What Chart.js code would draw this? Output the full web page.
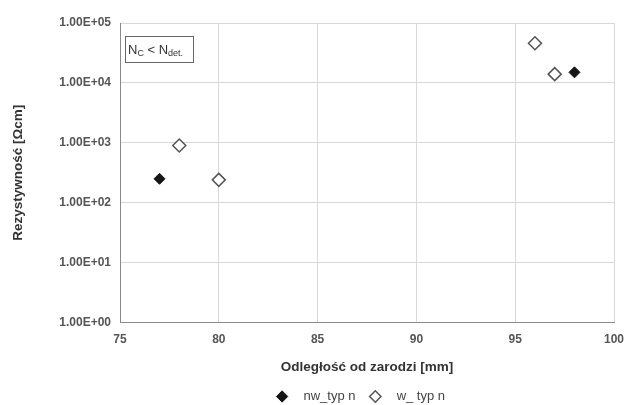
<!DOCTYPE html>
<html>
<head>
<meta charset="utf-8">
<script src="https://cdn.jsdelivr.net/npm/chart.js@4"></script>
<style>
  html, body { margin: 0; padding: 0; background: #fff; }
  #wrap { width: 624px; height: 405px; }
</style>
</head>
<body>
<div id="wrap"><canvas id="resChart"></canvas></div>
<script>
// dane
const nwX = [77, 98];
const nwY = [250, 15000];
const wX = [78, 80, 96, 97];
const wY = [900, 240, 46000, 14000];
const yTicks = [1, 10, 100, 1000, 10000, 100000];
const xTicks = [75, 80, 85, 90, 95, 100];

const pts = (xs, ys) => xs.map((x, i) => ({ x: x, y: ys[i] }));
const FONT = '"Liberation Sans", Arial, sans-serif';

// ramka z opisem N_C < N_det.
const noteBox = {
  id: 'noteBox',
  afterDraw(chart) {
    const c = chart.ctx;
    const a = chart.chartArea;
    const x0 = a.left + 5, y0 = a.top + 13;
    c.save();
    c.strokeStyle = '#666';
    c.lineWidth = 1;
    c.strokeRect(x0 + 0.5, y0 + 0.5, 68, 26);
    c.fillStyle = '#333';
    c.textBaseline = 'alphabetic';
    let x = x0 + 3;
    const base = y0 + 18;
    const part = (t, size, dy) => {
      c.font = size + 'px ' + FONT;
      c.fillText(t, x, base + dy);
      x += c.measureText(t).width;
    };
    part('N', 13, 0);
    part('C', 9, 2);
    part(' < N', 13, 0);
    part('det.', 9, 2);
    c.restore();
  }
};

new Chart(document.getElementById('resChart'), {
  type: 'scatter',
  data: {
    datasets: [
      {
        label: 'nw_typ n',
        data: pts(nwX, nwY),
        pointStyle: 'rectRot',
        pointRadius: 5.5,
        backgroundColor: '#151515',
        borderColor: '#151515',
        borderWidth: 1
      },
      {
        label: 'w_ typ n',
        data: pts(wX, wY),
        pointStyle: 'rectRot',
        pointRadius: 6.5,
        backgroundColor: '#ffffff',
        borderColor: '#555',
        borderWidth: 1.5
      }
    ]
  },
  options: {
    responsive: true,
    maintainAspectRatio: false,
    animation: false,
    layout: { padding: { left: 6, right: 0, top: 23, bottom: 0 } },
    plugins: {
      tooltip: { enabled: false },
      legend: {
        position: 'bottom',
        fullSize: false,
        maxHeight: 20,
        labels: {
          usePointStyle: true,
          pointStyle: 'rectRot',
          boxWidth: 8,
          boxHeight: 8,
          padding: 5,
          color: '#444',
          font: { family: FONT, size: 13 },
          generateLabels: (chart) => Chart.defaults.plugins.legend.labels.generateLabels(chart)
            .map(l => Object.assign(l, { text: '   ' + l.text + '   ' }))
        }
      }
    },
    scales: {
      x: {
        type: 'linear',
        min: 75,
        max: 100,
        afterBuildTicks: (s) => { s.ticks = xTicks.map(v => ({ value: v })); },
        afterFit: (s) => { s.paddingRight = 10; },
        ticks: {
          color: '#555',
          padding: 10,
          font: { family: FONT, size: 12, weight: 'bold' }
        },
        grid: { color: '#d8d8d8', drawTicks: false },
        border: { color: '#8a8a8a' },
        title: {
          display: true,
          text: 'Odległość od zarodzi [mm]',
          color: '#333',
          padding: { top: 2, bottom: 10 },
          font: { family: FONT, size: 13.5, weight: 'bold' }
        }
      },
      y: {
        type: 'logarithmic',
        min: 1,
        max: 100000,
        afterBuildTicks: (s) => { s.ticks = yTicks.map(v => ({ value: v })); },
        afterFit: (s) => { s.width = 114; },
        ticks: {
          color: '#555',
          padding: 9,
          callback: (v) => Number(v).toExponential(2).toUpperCase().replace(/E([+-])(\d)$/, 'E$10$2'),
          font: { family: FONT, size: 12, weight: 'bold' }
        },
        grid: { color: '#d8d8d8', drawTicks: false },
        border: { color: '#8a8a8a' },
        title: {
          display: true,
          text: 'Rezystywność [Ωcm]',
          color: '#333',
          padding: { top: 4, bottom: 10 },
          font: { family: FONT, size: 13.5, weight: 'bold' }
        }
      }
    }
  },
  plugins: [noteBox]
});
</script>
</body>
</html>
